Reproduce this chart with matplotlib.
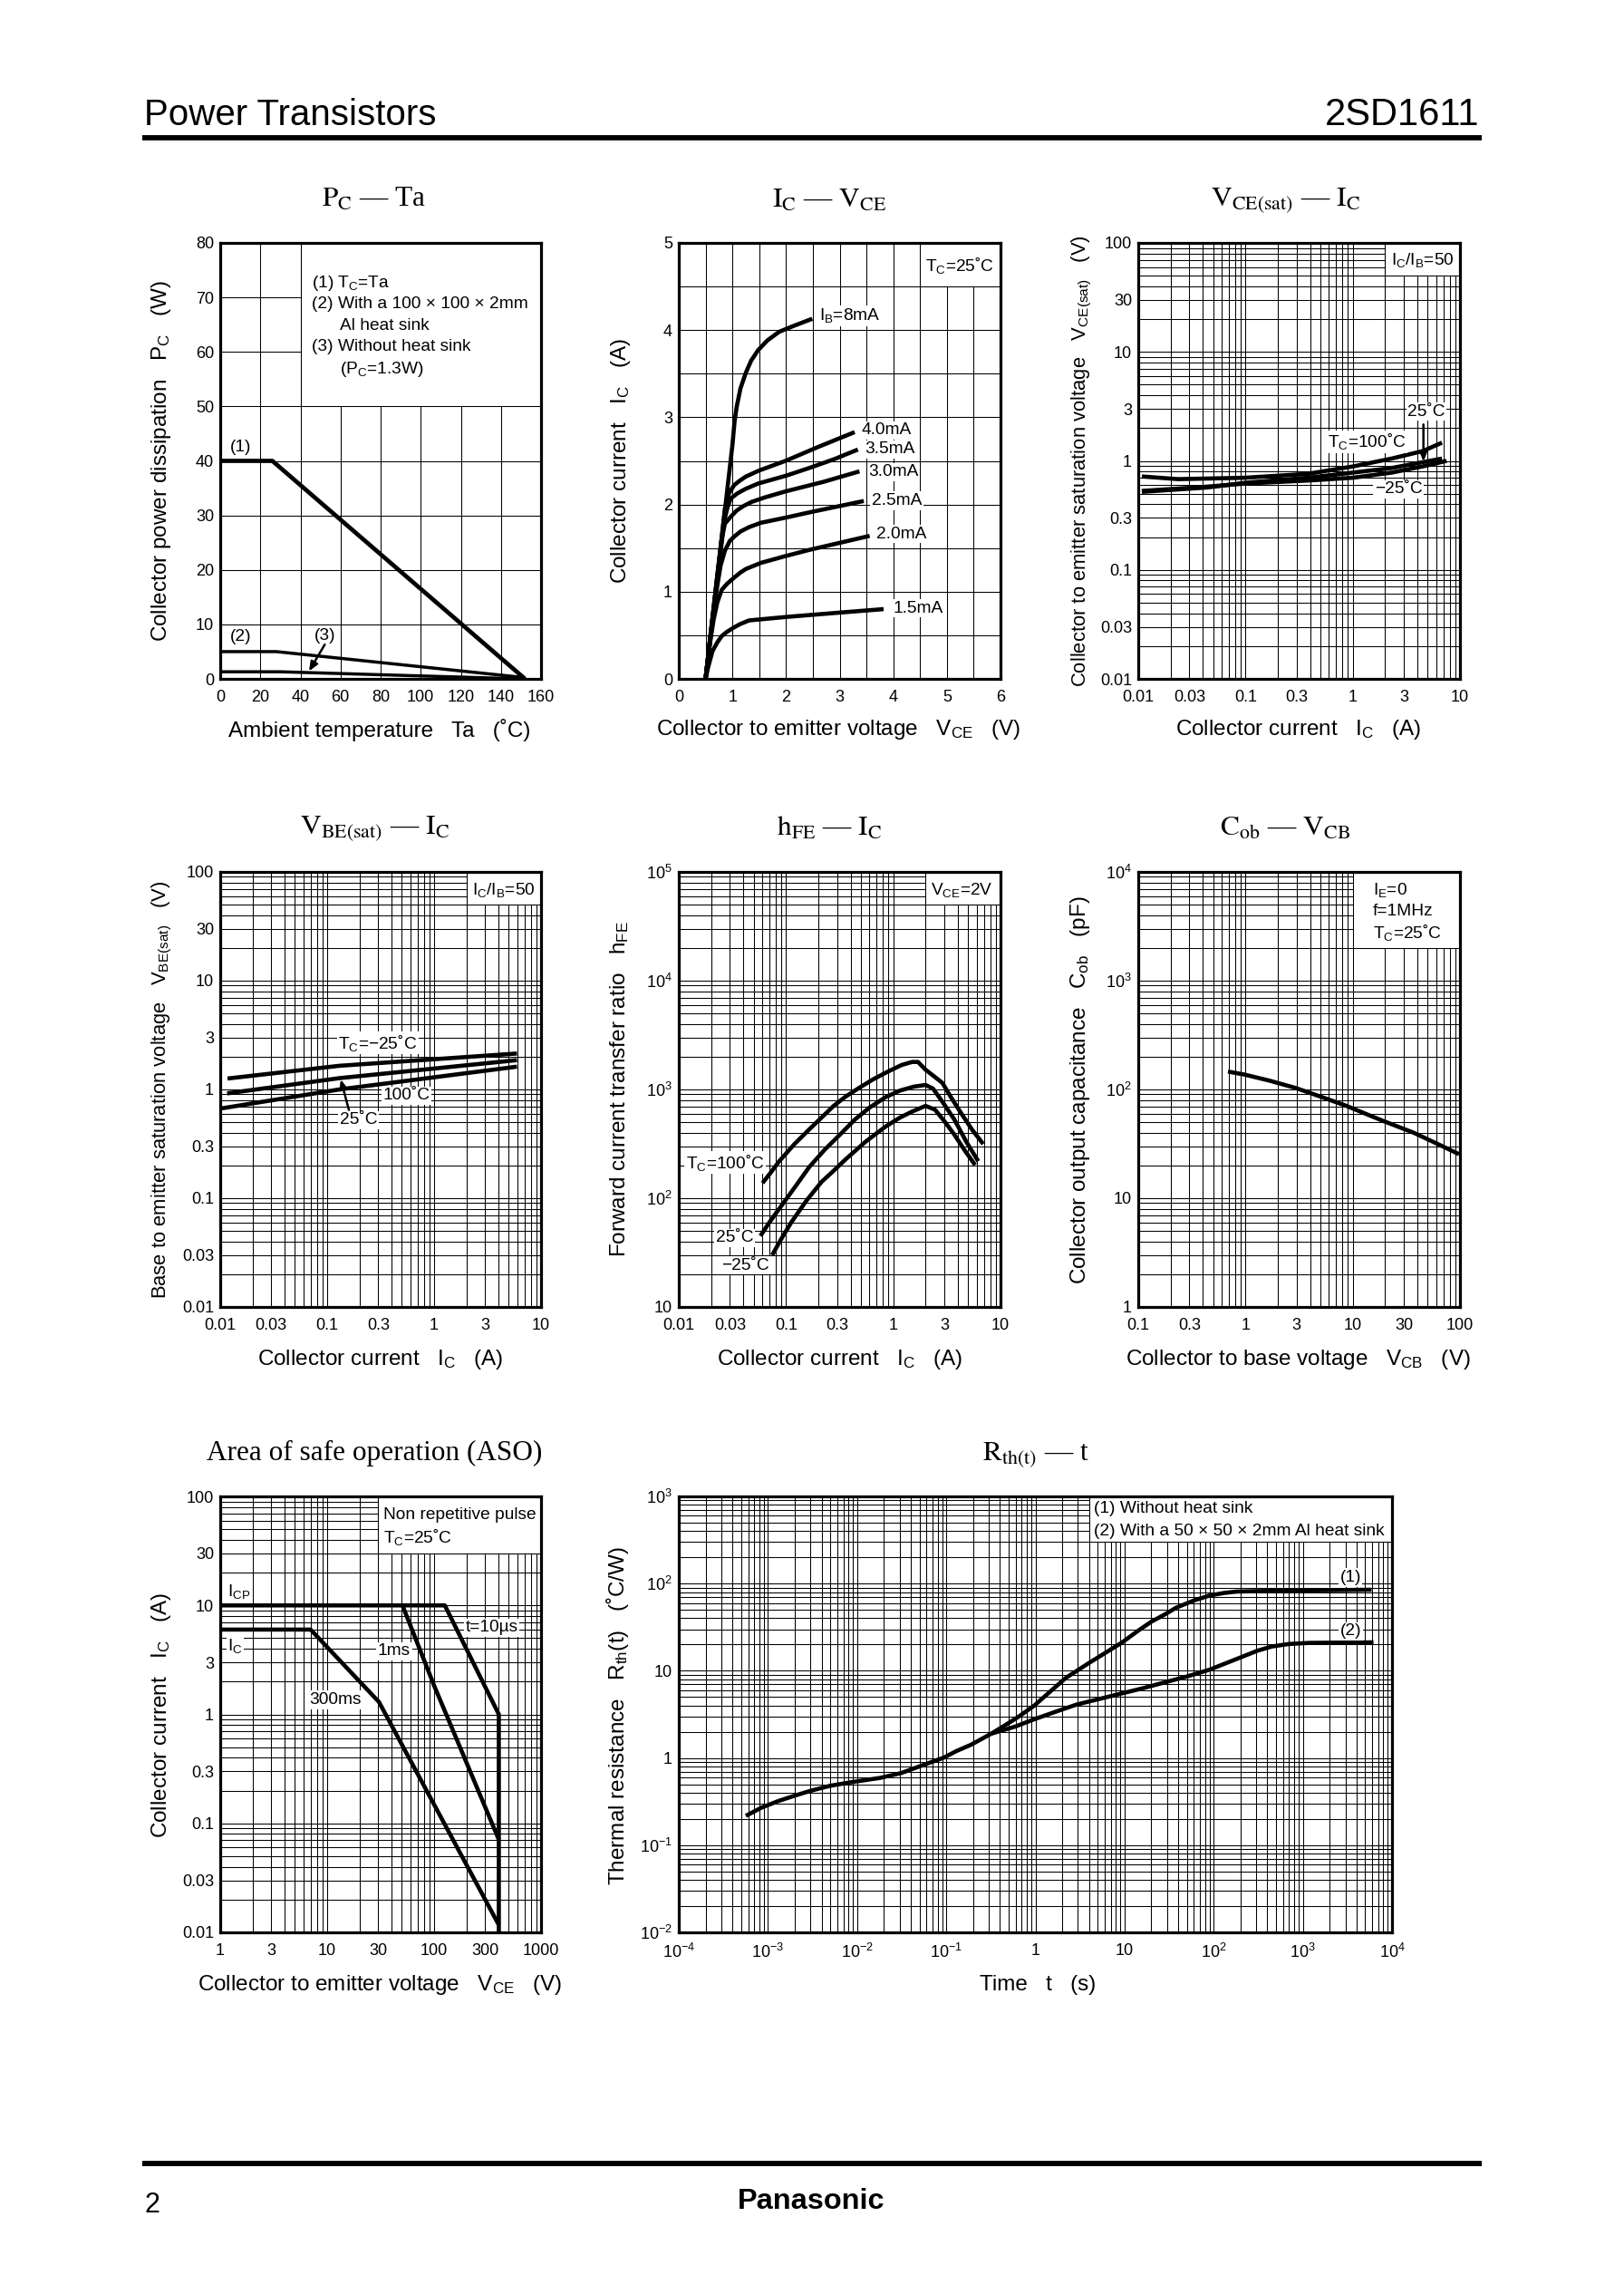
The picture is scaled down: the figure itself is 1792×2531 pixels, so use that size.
import matplotlib
matplotlib.use("Agg")
import matplotlib.pyplot as plt
from matplotlib.lines import Line2D
from matplotlib.patches import Rectangle
from matplotlib.ticker import LogLocator, NullFormatter, MultipleLocator

plt.rcParams.update({
    "font.family": ["Liberation Sans", "DejaVu Sans"],
    "mathtext.fontset": "custom", "mathtext.rm": "Liberation Sans",
    "mathtext.it": "Liberation Sans:italic", "mathtext.bf": "Liberation Sans:bold",
    "mathtext.default": "rm",
})
W, H = 1792, 2531
DPI = 100

# ---- data ----
pc_x1 = [0, 26, 152];      pc_y1 = [40, 40, 0]
pc_x2 = [0, 28, 150];      pc_y2 = [5, 5, 0.3]
pc_x3 = [0, 30, 150];      pc_y3 = [1.3, 1.3, 0]

ib8_x = [0.5, 0.75, 1.0, 1.04, 1.08, 1.15, 1.25, 1.35, 1.48, 1.65, 1.87, 2.15, 2.49]
ib8_y = [0, 1.34, 2.68, 2.95, 3.12, 3.33, 3.51, 3.65, 3.77, 3.88, 3.98, 4.05, 4.13]
ib40_x = [0.5, 0.75, 0.86, 0.93, 1.03, 1.13, 1.25, 1.5, 1.99, 2.6, 3.28]
ib40_y = [0, 1.34, 1.95, 2.12, 2.22, 2.27, 2.32, 2.39, 2.50, 2.66, 2.83]
ib35_x = [0.5, 0.75, 0.85, 0.91, 0.97, 1.1, 1.25, 1.48, 2.0, 2.44, 2.9, 3.34]
ib35_y = [0, 1.3, 1.82, 1.97, 2.07, 2.13, 2.18, 2.24, 2.33, 2.42, 2.52, 2.63]
ib30_x = [0.5, 0.72, 0.8, 0.86, 0.97, 1.08, 1.2, 1.36, 1.6, 1.99, 2.7, 3.37]
ib30_y = [0, 1.2, 1.6, 1.78, 1.86, 1.93, 1.98, 2.03, 2.08, 2.15, 2.26, 2.38]
ib25_x = [0.5, 0.6, 0.7, 0.78, 0.86, 0.95, 1.03, 1.15, 1.31, 1.53, 2.0, 2.44, 3.45]
ib25_y = [0, 0.55, 1.0, 1.3, 1.47, 1.58, 1.63, 1.69, 1.74, 1.79, 1.85, 1.91, 2.04]
ib20_x = [0.5, 0.58, 0.65, 0.72, 0.8, 0.9, 1.03, 1.15, 1.25, 1.53, 2.0, 2.44, 3.0, 3.56]
ib20_y = [0, 0.4, 0.68, 0.88, 1.02, 1.09, 1.16, 1.22, 1.26, 1.33, 1.41, 1.48, 1.56, 1.64]
ib15_x = [0.5, 0.55, 0.63, 0.72, 0.8, 0.9, 1.03, 1.15, 1.31, 1.48, 2.0, 3.0, 3.82]
ib15_y = [0, 0.14, 0.32, 0.42, 0.49, 0.54, 0.59, 0.63, 0.67, 0.68, 0.71, 0.76, 0.80]

vce_x100 = [0.0108, 0.0235, 0.098, 0.38, 1.01, 2.3, 4.5, 6.8]
vce_y100 = [0.72, 0.68, 0.70, 0.76, 0.89, 1.05, 1.23, 1.47]
vce_x25 = [0.0108, 0.044, 0.1, 0.38, 1.0, 2.3, 6.8]
vce_y25 = [0.52, 0.57, 0.63, 0.70, 0.78, 0.86, 1.05]
vce_xm25 = [0.0108, 0.044, 0.1, 0.38, 1.0, 2.3, 4.5, 7.5]
vce_ym25 = [0.53, 0.58, 0.62, 0.66, 0.70, 0.78, 0.89, 1.0]

vbe_xm25 = [0.0117, 0.13, 5.96];  vbe_ym25 = [1.26, 1.65, 2.14]
vbe_x100 = [0.0116, 0.13, 5.96];  vbe_y100 = [0.92, 1.27, 1.86]
vbe_x25 = [0.0103, 0.13, 5.96];   vbe_y25 = [0.67, 1.0, 1.62]

hfe_x100 = [0.0604, 0.073, 0.0865, 0.12, 0.165, 0.22, 0.278, 0.36, 0.467, 0.65, 0.895, 1.2, 1.5, 1.7,
            2.0, 2.4, 2.87, 3.5, 4.2, 5.4, 6.9]
hfe_y100 = [138, 175, 219, 315, 430, 565, 706, 860, 1016, 1240, 1462, 1680, 1790, 1790,
            1520, 1320, 1150, 830, 626, 430, 315]
hfe_x25 = [0.0577, 0.07, 0.0865, 0.12, 0.165, 0.23, 0.32, 0.44, 0.6, 0.85, 1.15, 1.55, 2.0, 2.35, 2.9,
           3.7, 4.8, 6.2]
hfe_y25 = [45, 60, 80, 125, 194, 280, 386, 530, 680, 850, 975, 1060, 1100, 1017, 760, 532, 330, 219]
hfe_xm25 = [0.0743, 0.09, 0.112, 0.155, 0.214, 0.28, 0.36, 0.55, 0.84, 1.15, 1.5, 2.0, 2.45, 3.0, 3.7,
            4.7, 5.8]
hfe_ym25 = [30, 42, 60, 95, 141, 180, 228, 330, 453, 550, 626, 706, 652, 510, 386, 270, 202]

cob_x = [0.687, 0.98, 1.7, 2.95, 5, 8.6, 18.6, 37, 60, 98]
cob_y = [146, 137, 120, 103, 86, 71, 52, 40, 32, 25.4]

aso_t_x = [1, 126, 403, 403];      aso_t_y = [10, 10, 1, 0.01]
aso_1ms_x = [50.6, 100, 403];      aso_1ms_y = [10, 1.84, 0.071]
aso_300_x = [1, 7, 30.5, 403];     aso_300_y = [6, 6, 1.3, 0.0117]

rth_x0 = [5.65e-4, 8.5e-4, 1.3e-3, 2e-3, 3e-3, 5e-3, 7.9e-3, 1.2e-2, 1.8e-2, 3.1e-2, 5e-2, 0.094, 0.13,
          0.19, 0.32]
rth_y0 = [0.217, 0.27, 0.32, 0.37, 0.42, 0.48, 0.52, 0.555, 0.59, 0.67, 0.8, 1.01, 1.2, 1.42, 1.9]
rth_x1 = [0.45, 0.64, 0.96, 1.5, 2.2, 4, 9.3, 14, 20, 28, 38, 60, 90, 130, 180, 300, 700, 5900]
rth_y1 = [2.35, 2.95, 3.95, 5.9, 8.3, 12.3, 21, 28.5, 36.6, 44, 53, 64, 73, 78, 81, 82, 83, 85]
rth_x2 = [0.6, 0.96, 1.7, 2.9, 5, 9.3, 16, 26, 50, 90, 160, 310, 450, 700, 1200, 6200]
rth_y2 = [2.3, 2.77, 3.4, 4.1, 4.7, 5.5, 6.3, 7.2, 8.6, 10.3, 13, 17, 19, 20.3, 20.9, 21.2]

log_x_001 = [0.01, 0.03, 0.1, 0.3, 1, 3, 10]
log_x_001_lab = ["0.01", "0.03", "0.1", "0.3", "1", "3", "10"]
log_y_001 = [0.01, 0.03, 0.1, 0.3, 1, 3, 10, 30, 100]
log_y_001_lab = ["0.01", "0.03", "0.1", "0.3", "1", "3", "10", "30", "100"]
hfe_yt = [10, 100, 1000, 1e4, 1e5]
hfe_ylab = ["10", "$10^2$", "$10^3$", "$10^4$", "$10^5$"]
cob_xt = [0.1, 0.3, 1, 3, 10, 30, 100]
cob_xlab = ["0.1", "0.3", "1", "3", "10", "30", "100"]
cob_yt = [1, 10, 100, 1000, 1e4]
cob_ylab = ["1", "10", "$10^2$", "$10^3$", "$10^4$"]
aso_xt = [1, 3, 10, 30, 100, 300, 1000]
aso_xlab = ["1", "3", "10", "30", "100", "300", "1000"]
rth_xt = [1e-4, 1e-3, 1e-2, 1e-1, 1, 10, 100, 1e3, 1e4]
rth_xlab = ["$10^{-4}$", "$10^{-3}$", "$10^{-2}$", "$10^{-1}$", "1", "10", "$10^2$", "$10^3$", "$10^4$"]
rth_yt = [1e-2, 1e-1, 1, 10, 100, 1e3]
rth_ylab = ["$10^{-2}$", "$10^{-1}$", "1", "10", "$10^2$", "$10^3$"]

fig = plt.figure(figsize=(W / DPI, H / DPI), dpi=DPI, facecolor="white")

def fx(x): return x / W
def fy(y): return 1 - y / H

# reading crops: origin x, origin y, scale x, scale y
LEFT_T, MID_T, RIGHT_T = (140, 180, 3, 2.376), (660, 180, 3, 2.376), (1160, 180, 3, 2.376)
LEFT_M, MID_M, RIGHT_M = (140, 890, 3, 2.376), (660, 890, 3, 2.376), (1160, 890, 3, 2.376)
LEFT_B, WIDE_B = (140, 1590, 3, 2.445), (660, 1590, 1.696, 2.445)

def pos(c, zx, zy):
    return fx(c[0] + zx / c[2]), fy(c[1] + zy / c[3])

LAB = 13.8
def label(c, zx, zy, s, ha="center", bg=True, size=LAB):
    x, y = pos(c, zx, zy)
    kw = dict(bbox=dict(fc="white", ec="none", boxstyle="square,pad=0.08")) if bg else {}
    fig.text(x, y, s, ha=ha, va="center", fontsize=size, color="black", zorder=5, **kw)

def arrow(ax, c, a, b):
    ax.annotate("", xy=pos(c, *b), xytext=pos(c, *a), xycoords="figure fraction",
                textcoords="figure fraction", zorder=6,
                arrowprops=dict(arrowstyle="-|>,head_length=0.6,head_width=0.25", color="black",
                                lw=1.8, shrinkA=0, shrinkB=0))

def panel(box, xlim, ylim, xt, xl, yt, yl, logx, logy, white):
    l, t, r, b = box
    ax = fig.add_axes([fx(l), fy(b), (r - l) / W, (b - t) / H])
    if logx:
        ax.set_xscale("log")
    if logy:
        ax.set_yscale("log")
    ax.set_xlim(*xlim); ax.set_ylim(*ylim)
    ax.set_xticks(xt, xl); ax.set_yticks(yt, yl)
    for axis, lg in ((ax.xaxis, logx), (ax.yaxis, logy)):
        if lg:
            axis.set_minor_locator(LogLocator(base=10, subs=tuple(range(1, 10)), numticks=60))
            axis.set_minor_formatter(NullFormatter())
    ax.grid(True, which="both", color="black", lw=0.75)
    ax.set_axisbelow(True)
    ax.tick_params(which="both", length=0, labelsize=13)
    ax.tick_params(axis="x", pad=8.5)
    ax.tick_params(axis="y", pad=5)
    for s in ax.spines.values():
        s.set_linewidth(2.3); s.set_zorder(4)
    (x0, y0), (x1, y1) = white
    ax.add_patch(Rectangle((x0, y0), x1 - x0, y1 - y0, fc="white", ec="black", lw=0.75, zorder=1.5))
    return ax

def curve(ax, x, y, lw=3.3):
    ax.plot(x, y, color="black", lw=lw, solid_joinstyle="round", solid_capstyle="butt",
            zorder=3, clip_on=True)

def title(px, py, s):
    fig.text(fx(px), fy(py), s, family="Liberation Serif", math_fontfamily="stix",
             fontsize=22.5, ha="center", va="center")

def xlabel(px, py, s):
    fig.text(fx(px), fy(py + 2), s, fontsize=17.5, ha="center", va="center")

def ylabel(px, py, s, size=17.5):
    fig.text(fx(px), fy(py), s, fontsize=size, ha="center", va="center", rotation=90)

# ---- page furniture ----
for yy in (152, 2387):
    fig.add_artist(Line2D([fx(157), fx(1635)], [fy(yy), fy(yy)], color="black", lw=4.2,
                          solid_capstyle="butt"))
fig.text(fx(159), fy(127), "Power Transistors", fontsize=29, ha="left", va="center")
fig.text(fx(1632), fy(127), "2SD1611", fontsize=30, ha="right", va="center")
fig.text(fx(159), fy(2433), "2", fontsize=22, ha="left", va="center")
fig.text(fx(895), fy(2429), "Panasonic", fontsize=23.4, fontweight="bold", ha="center", va="center")

# ---- P_C - Ta ----
ax = panel((243, 268, 597, 749), (0, 160), (0, 80), list(range(0, 161, 20)),
           [str(v) for v in range(0, 161, 20)], list(range(0, 81, 10)),
           [str(v) for v in range(0, 81, 10)], False, False, ((40, 50), (160, 80)))
curve(ax, pc_x1, pc_y1, 3.4); curve(ax, pc_x2, pc_y2, 2.5); curve(ax, pc_x3, pc_y3, 2.5)
title(413, 220, r"$\mathrm{P_C}$ — Ta")
xlabel(419, 803, "Ambient temperature   Ta   (˚C)")
ylabel(178, 509, "Collector power dissipation   $P_C$   (W)")
for zy, s, zx in ((315, "(1) $T_C$=Ta", 612), (370, "(2) With a 100 × 100 × 2mm", 612),
                  (427, "Al heat sink", 705), (482, "(3) Without heat sink", 612),
                  (540, "($P_C$=1.3W)", 705)):
    label(LEFT_T, zx, zy, s, ha="left", bg=False)
label(LEFT_T, 378, 745, "(1)", bg=False)
label(LEFT_T, 378, 1242, "(2)", bg=False)
label(LEFT_T, 657, 1240, "(3)", bg=False)
arrow(ax, LEFT_T, (655, 1262), (603, 1332))

# ---- I_C - V_CE ----
ax = panel((749, 268, 1104, 749), (0, 6), (0, 5), list(range(7)), [str(v) for v in range(7)],
           list(range(6)), [str(v) for v in range(6)], False, False, ((4.5, 4.5), (6, 5)))
ax.xaxis.set_minor_locator(MultipleLocator(0.5)); ax.yaxis.set_minor_locator(MultipleLocator(0.5))
for xs, ys in ((ib8_x, ib8_y), (ib40_x, ib40_y), (ib35_x, ib35_y), (ib30_x, ib30_y),
               (ib25_x, ib25_y), (ib20_x, ib20_y), (ib15_x, ib15_y)):
    curve(ax, xs, ys)
title(915, 221, r"$\mathrm{I_C}$ — $\mathrm{V_{CE}}$")
xlabel(925, 803, "Collector to emitter voltage   $V_{CE}$   (V)")
ylabel(685, 509, "Collector current   $I_C$   (A)")
label(MID_T, 1197, 268, "$T_C$=25˚C", bg=False)
for zx, zy, s in ((733, 400, "$I_B$=8mA"), (872, 700, "4.0mA"), (883, 750, "3.5mA"),
                  (895, 810, "3.0mA"), (905, 885, "2.5mA"), (922, 972, "2.0mA"),
                  (975, 1167, "1.5mA")):
    label(MID_T, zx, zy, s, ha="left")

# ---- V_CE(sat) - I_C ----
ax = panel((1256, 268, 1611, 749), (0.01, 10), (0.01, 100), log_x_001, log_x_001_lab,
           log_y_001, log_y_001_lab, True, True, ((2, 50), (10, 100)))
curve(ax, vce_x100, vce_y100); curve(ax, vce_x25, vce_y25); curve(ax, vce_xm25, vce_ym25)
title(1418, 221, r"$\mathrm{V_{CE(sat)}}$ — $\mathrm{I_C}$")
xlabel(1432, 803, "Collector current   $I_C$   (A)")
ylabel(1194, 509, "Collector to emitter saturation voltage   $V_{CE(sat)}$   (V)", size=15.8)
label(RIGHT_T, 1228, 255, "$I_C$/$I_B$=50", bg=False)
label(RIGHT_T, 1242, 652, "25˚C")
label(RIGHT_T, 1045, 730, "$T_C$=100˚C")
label(RIGHT_T, 1150, 855, "−25˚C")
arrow(ax, RIGHT_T, (1232, 685), (1232, 782))

# ---- V_BE(sat) - I_C ----
ax = panel((243, 962, 597, 1442), (0.01, 10), (0.01, 100), log_x_001, log_x_001_lab,
           log_y_001, log_y_001_lab, True, True, ((2, 50), (10, 100)))
curve(ax, vbe_xm25, vbe_ym25); curve(ax, vbe_x100, vbe_y100); curve(ax, vbe_x25, vbe_y25)
title(413, 914, r"$\mathrm{V_{BE(sat)}}$ — $\mathrm{I_C}$")
xlabel(419, 1498, "Collector current   $I_C$   (A)")
ylabel(179, 1202, "Base to emitter saturation voltage   $V_{BE(sat)}$   (V)", size=15.8)
label(LEFT_M, 1248, 218, "$I_C$/$I_B$=50", bg=False)
label(LEFT_M, 830, 620, "$T_C$=−25˚C")
label(LEFT_M, 925, 757, "100˚C")
label(LEFT_M, 767, 822, "25˚C")
arrow(ax, LEFT_M, (735, 795), (708, 715))

# ---- hFE - I_C ----
ax = panel((749, 962, 1104, 1442), (0.01, 10), (10, 1e5), log_x_001, log_x_001_lab,
           hfe_yt, hfe_ylab, True, True, ((2, 5e4), (10, 1e5)))
curve(ax, hfe_x100, hfe_y100); curve(ax, hfe_x25, hfe_y25); curve(ax, hfe_xm25, hfe_ym25)
title(915, 914, r"$\mathrm{h_{FE}}$ — $\mathrm{I_C}$")
xlabel(926, 1498, "Collector current   $I_C$   (A)")
ylabel(684, 1202, "Forward current transfer ratio   $h_{FE}$")
label(MID_M, 1205, 218, "$V_{CE}$=2V", bg=False)
label(MID_M, 420, 933, "$T_C$=100˚C")
label(MID_M, 452, 1130, "25˚C")
label(MID_M, 488, 1203, "−25˚C")

# ---- C_ob - V_CB ----
ax = panel((1256, 962, 1611, 1442), (0.1, 100), (1, 1e4), cob_xt, cob_xlab,
           cob_yt, cob_ylab, True, True, ((10, 2000), (100, 1e4)))
curve(ax, cob_x, cob_y)
title(1418, 914, r"$\mathrm{C_{ob}}$ — $\mathrm{V_{CB}}$")
xlabel(1432, 1498, "Collector to base voltage   $V_{CB}$   (V)")
ylabel(1192, 1203, "Collector output capacitance   $C_{ob}$   (pF)")
for zy, s in ((218, "$I_E$=0"), (275, "f=1MHz"), (330, "$T_C$=25˚C")):
    label(RIGHT_M, 1065, zy, s, ha="left", bg=False)

# ---- ASO ----
ax = panel((243, 1651, 597, 2132), (1, 1000), (0.01, 100), aso_xt, aso_xlab,
           log_y_001, log_y_001_lab, True, True, ((30, 30), (1000, 100)))
curve(ax, aso_t_x, aso_t_y); curve(ax, aso_1ms_x, aso_1ms_y); curve(ax, aso_300_x, aso_300_y)
title(413, 1603, "Area of safe operation (ASO)")
xlabel(419, 2188, "Collector to emitter voltage   $V_{CE}$   (V)")
ylabel(178, 1893, "Collector current   $I_C$   (A)")
label(LEFT_B, 848, 200, "Non repetitive pulse", ha="left", bg=False)
label(LEFT_B, 848, 258, "$T_C$=25˚C", ha="left", bg=False)
label(LEFT_B, 370, 405, "$I_{CP}$", bg=False)
label(LEFT_B, 358, 552, "$I_C$")
label(LEFT_B, 1207, 503, "t=10µs")
label(LEFT_B, 885, 567, "1ms")
label(LEFT_B, 690, 698, "300ms")

# ---- R_th(t) - t ----
ax = panel((749, 1651, 1536, 2132), (1e-4, 1e4), (1e-2, 1e3), rth_xt, rth_xlab,
           rth_yt, rth_ylab, True, True, ((4, 300), (1e4, 1e3)))
curve(ax, rth_x0, rth_y0)
curve(ax, [rth_x0[-1]] + rth_x1, [rth_y0[-1]] + rth_y1)
curve(ax, [rth_x0[-1]] + rth_x2, [rth_y0[-1]] + rth_y2)
title(1143, 1605, r"$\mathrm{R_{th(t)}}$ — t")
xlabel(1145, 2188, "Time   t   (s)")
ylabel(681, 1893, "Thermal resistance   $R_{th}$(t)   (˚C/W)")
label(WIDE_B, 928, 183, "(1) Without heat sink", ha="left", bg=False)
label(WIDE_B, 928, 243, "(2) With a 50 × 50 × 2mm Al heat sink", ha="left", bg=False)
label(WIDE_B, 1408, 368, "(1)")
label(WIDE_B, 1408, 513, "(2)")

fig.savefig("out.png", dpi=DPI, facecolor="white")
